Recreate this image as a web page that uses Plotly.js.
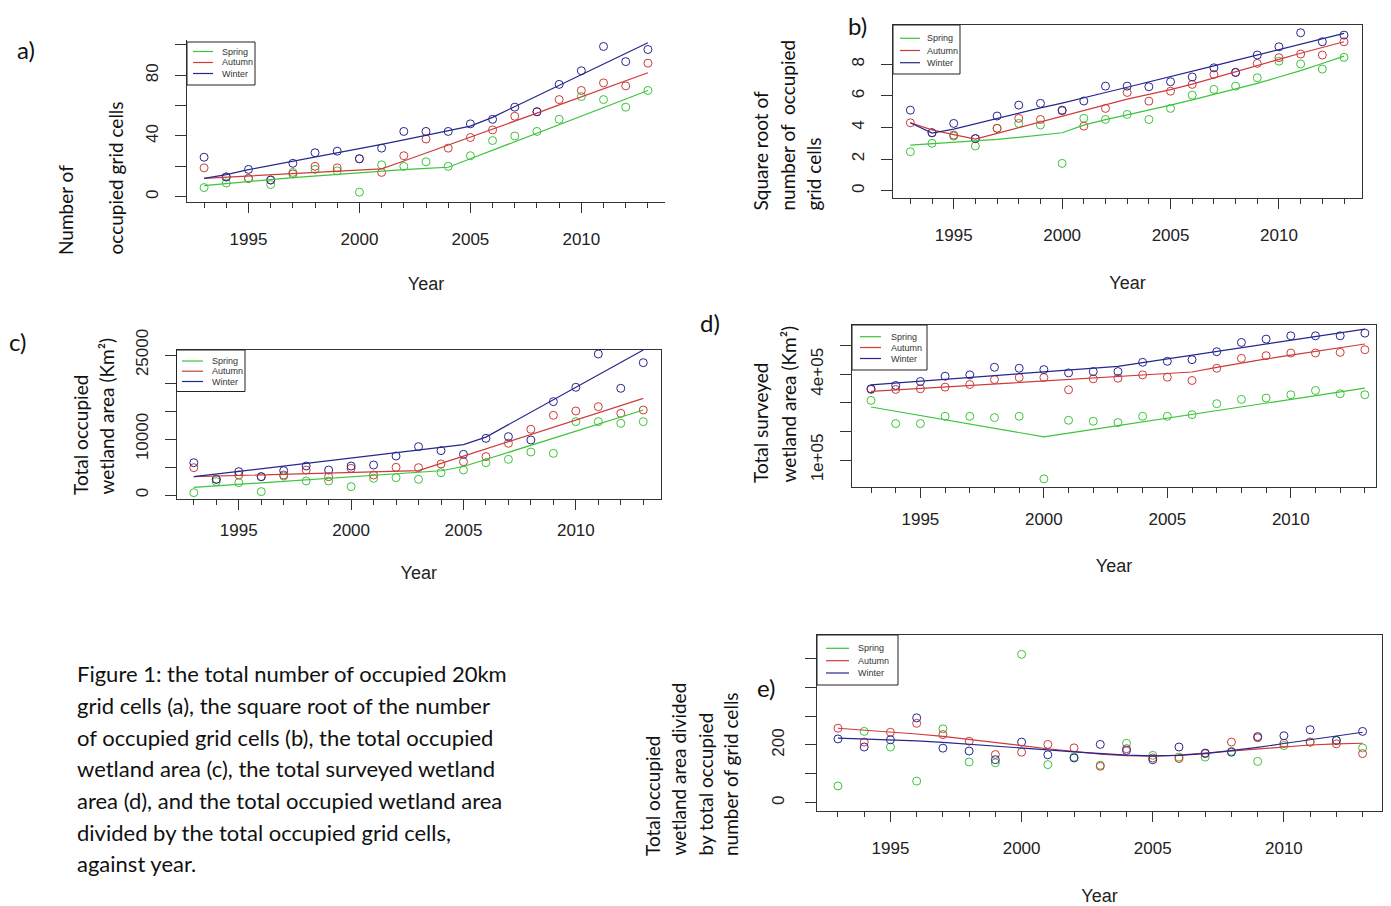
<!DOCTYPE html>
<html>
<head>
<meta charset="utf-8">
<script src="https://cdn.plot.ly/plotly-3.0.1.min.js"></script>
<style>html,body{margin:0;padding:0;background:#fff;}#chart{width:1391px;height:906px;}</style>
</head>
<body>
<div id="chart"></div>
<script>
// ---------- data ----------
const years = [1993,1994,1995,1996,1997,1998,1999,2000,2001,2002,2003,2004,2005,2006,2007,2008,2009,2010,2011,2012,2013];
const seasons = ['Spring','Autumn','Winter'];

// a) number of occupied grid cells
const aSpring = [6,9,12,8,16,18,17,3,21,20,23,20,27,37,40,43,51,66,64,59,70];
const aAutumn = [19,13,12,11,15,20,19,25,16,27,38,32,39,44,53,56,64,70,75,73,88];
const aWinter = [26,13,18,11,22,29,30,25,32,43,43,43,48,51,59,56,74,83,99,89,97];
const aSpringFit = [7.3,8.8,10.1,11.3,12.5,13.6,14.8,16,17,17.8,18.6,19.4,25,30.6,36.2,41.9,47.5,53.1,58.7,64.4,70];
const aAutumnFit = [12.1,12.9,13.7,14.5,15.2,16,16.8,17.5,18.3,23.5,28.7,34,39.2,44.5,49.8,55.1,60.5,65.8,71,76.4,81.7];
const aWinterFit = [12.1,14.5,17.8,20.5,23.2,26,28.7,31.5,34.5,37.5,40.5,43.6,46.5,52.3,59.3,66.3,73.3,80.3,87.3,94.4,101.5];

// b) square root of number of occupied grid cells
const bSpring = [2.47,3.0,3.46,2.83,3.95,4.26,4.16,1.73,4.58,4.51,4.83,4.51,5.21,6.05,6.41,6.62,7.15,8.2,8.02,7.7,8.44];
const bAutumn = [4.3,3.67,3.52,3.3,3.95,4.58,4.51,5.06,4.09,5.21,6.22,5.67,6.3,6.73,7.36,7.49,8.06,8.42,8.65,8.59,9.43];
const bWinter = [5.1,3.67,4.26,3.3,4.73,5.42,5.53,5.1,5.68,6.62,6.62,6.58,6.9,7.2,7.78,7.49,8.59,9.11,10.0,9.43,9.85];
const bSpringFit = [2.89,2.97,3.06,3.15,3.25,3.38,3.52,3.67,4.15,4.5,4.8,5.1,5.42,5.75,6.1,6.45,6.8,7.2,7.6,8.05,8.52];
const bAutumnFit = [4.3,3.85,3.55,3.27,3.63,4.0,4.36,4.72,5.08,5.44,5.8,6.1,6.4,6.75,7.15,7.55,7.95,8.31,8.7,9.07,9.43];
const bWinterFit = [4.3,3.65,3.9,4.24,4.57,4.9,5.24,5.55,5.9,6.22,6.55,6.88,7.2,7.55,7.9,8.25,8.6,8.95,9.29,9.62,9.96];

// c) total occupied wetland area (km2)
const cSpring = [420,2380,2200,600,3390,2500,2500,1490,2980,3100,2800,3990,4460,5770,6370,7680,7440,13100,13100,12800,13100];
const cAutumn = [4880,2800,3570,3270,3570,4460,3270,4760,3570,4940,4880,5540,5950,6850,9230,11730,14230,15000,15770,14580,15180];
const cWinter = [5770,2800,4170,3270,4350,5180,4460,5180,5360,6960,8630,7920,7260,10120,10420,9820,16670,19230,25180,19050,23630];
const cSpringFit = [1370,1640,1910,2180,2450,2710,2980,3250,3520,3790,4060,4330,5090,6350,7610,8870,10140,11400,12660,13920,15180];
const cAutumnFit = [3270,3380,3490,3600,3700,3810,3920,4030,4130,4240,4350,5640,6930,8220,9510,10810,12100,13390,14680,15970,17260];
const cWinterFit = [3270,3750,4220,4700,5180,5650,6130,6610,7090,7560,8040,8520,8990,10340,12560,14780,17000,19230,21450,23670,25890];

// d) total surveyed wetland area (km2)
const dSpring = [308700,227500,227500,253000,253000,248400,253000,33900,239100,235700,231000,253000,253000,258800,297100,312200,316800,328400,343500,331900,328400];
const dAutumn = [347000,347000,349300,355100,364300,381700,388700,388700,345800,384100,386400,398000,389900,378300,421200,455900,465200,474500,474500,476800,486100];
const dWinter = [349300,360900,374800,393300,398000,424600,421200,416500,404900,409600,409600,442000,445500,451300,479100,511600,523200,534800,534800,534800,544100];
const dSpringFit = [285500,270600,255700,240800,225900,211000,196100,181200,194300,207400,220500,233600,246700,259800,272900,286000,299100,312200,325300,338400,351500];
const dAutumnFit = [340000,345100,350200,355200,360300,365400,370500,375600,380600,385700,390800,395900,401000,408000,424000,440000,454000,467000,480000,493000,506000];
const dWinterFit = [363000,369500,376000,382500,389000,395500,402000,408500,415000,421500,428000,441000,454000,467000,480000,493000,506000,519000,532000,545000,558000];

// e) occupied wetland area per occupied grid cell (no spring fit line visible)
const eSpring = [58,247,193,75,256,141,138,514,132,158,130,206,164,158,158,178,143,198,210,215,190];
const eAutumn = [258,210,244,275,236,213,167,175,202,190,126,187,155,153,170,210,225,206,210,204,170];
const eWinter = [221,193,218,294,189,179,149,210,166,155,202,181,149,193,172,175,229,232,253,216,247];
const eAutumnFit = [258,252,246,238,230,220,210,198,187,177,168,163,161,165,172,180,188,195,200,204,206];
const eWinterFit = [224,221,218,214,209,203,197,190,183,176,170,165,162,164,170,180,192,205,218,231,244];

// tick labels (labelled ticks) and unlabelled tick positions
const aTickVals = [0,40,80];            const aTickText = ['0','40','80'];          const aMinorVals = [20,60,100];
const bTickVals = [0,2,4,6,8];          const bTickText = ['0','2','4','6','8'];    const bMinorVals = [];
const cTickVals = [0,10000,25000];      const cTickText = ['0','10000','25000'];    const cMinorVals = [5000,15000,20000];
const dTickVals = [100000,400000];      const dTickText = ['1e+05','4e+05'];        const dMinorVals = [200000,300000,500000];
const eTickVals = [0,200];              const eTickText = ['0','200'];              const eMinorVals = [100,300,400,500];

// ---------- styling / layout ----------
const W = 1391, H = 906;
const px = v => v / W;
const py = v => 1 - v / H;
const colors = {Spring:'#3cc43c', Autumn:'#cd3b3b', Winter:'#26268f'};
const axisFont = {family:'Liberation Sans, Arial, sans-serif', size:17, color:'#222'};
const calib = 'Lato, "Open Sans", sans-serif';

const panels = [
  {box:[187,40.4,665,202], xr:[1992.23,2013.77], yr:[-3.5,103], tv:aTickVals, tt:aTickText, mv:aMinorVals, mirror:false,
   xstand:12, ystand:10, tstand:28,
   leg:{box:[187,42,255,85], ly:[51.5,62.5,73.5], lx:[193,213], tx:220},
   pts:[aSpring,aAutumn,aWinter], fit:[aSpringFit,aAutumnFit,aWinterFit]},
  {box:[893,25,1362,198], xr:[1992.2,2013.83], yr:[-0.46,10.49], tv:bTickVals, tt:bTickText, mv:bMinorVals, mirror:true,
   xstand:12, ystand:10, tstand:31,
   leg:{box:[893,25,960,74], ly:[38.3,50.5,62.7], lx:[900,920], tx:925},
   pts:[bSpring,bAutumn,bWinter], fit:[bSpringFit,bAutumnFit,bWinterFit]},
  {box:[176.5,350,661,499], xr:[1992.23,2013.79], yr:[-714,25893], tv:cTickVals, tt:cTickText, mv:cMinorVals, mirror:true,
   xstand:6, ystand:10, tstand:26,
   leg:{box:[176.5,350,245,391.5], ly:[361,371.2,381.5], lx:[182,203], tx:210},
   pts:[cSpring,cAutumn,cWinter], fit:[cSpringFit,cAutumnFit,cWinterFit]},
  {box:[852,325,1376,486.5], xr:[1992.23,2013.45], yr:[7250,572600], tv:dTickVals, tt:dTickText, mv:dMinorVals, mirror:true,
   xstand:7, ystand:10, tstand:31,
   leg:{box:[852,325,927,370], ly:[336.7,347.5,358.5], lx:[860,881], tx:889},
   pts:[dSpring,dAutumn,dWinter], fit:[dSpringFit,dAutumnFit,dWinterFit]},
  {box:[817,635,1382,810.5], xr:[1992.2,2013.74], yr:[-27,581], tv:eTickVals, tt:eTickText, mv:eMinorVals, mirror:true,
   xstand:12, ystand:14, tstand:33,
   leg:{box:[817,635,898,685], ly:[648.3,660.7,673], lx:[826,849], tx:856},
   pts:[eSpring,eAutumn,eWinter], fit:[null,eAutumnFit,eWinterFit]}
];

const traces = [];
const layout = {
  width: W, height: H, margin:{l:0,r:0,t:0,b:0},
  paper_bgcolor:'#fff', plot_bgcolor:'#fff', showlegend:false,
  annotations: [], shapes: []
};

panels.forEach((p, i) => {
  const n = i === 0 ? '' : String(i + 1);
  const xa = 'x' + n, ya = 'y' + n;
  const [l, t, r, b] = p.box;
  layout['xaxis' + n] = {
    domain:[px(l), px(r)], range:p.xr, anchor:ya, autorange:false,
    showline:true, linecolor:'#333', linewidth:1, mirror:p.mirror,
    showgrid:false, zeroline:false,
    tickmode:'linear', tick0:1995, dtick:5, ticks:'outside', ticklen:10, tickcolor:'#333', tickwidth:1,
    minor:{ticks:'outside', ticklen:5, tickmode:'linear', tick0:1993, dtick:1, tickcolor:'#333', showgrid:false},
    tickfont:axisFont, ticklabelstandoff:p.xstand,
    title:{text:'Year', font:{family:'Liberation Sans, Arial, sans-serif', size:18, color:'#222'}, standoff:p.tstand}
  };
  const yax = {
    domain:[py(b), py(t)], range:p.yr, anchor:xa, autorange:false,
    showline:true, linecolor:'#333', linewidth:1, mirror:p.mirror,
    showgrid:false, zeroline:false,
    tickmode:'array', tickvals:p.tv, ticktext:p.tt, ticks:'outside', ticklen:11, tickcolor:'#333',
    tickangle:-90, tickfont:axisFont, ticklabelstandoff:p.ystand
  };
  if (p.mv.length) yax.minor = {tickmode:'array', tickvals:p.mv, ticks:'outside', ticklen:11, tickcolor:'#333', showgrid:false};
  layout['yaxis' + n] = yax;

  seasons.forEach((s, k) => {
    traces.push({
      type:'scatter', mode:'markers', x:years, y:p.pts[k], xaxis:xa, yaxis:ya,
      name:s, showlegend:false, hoverinfo:'skip',
      marker:{symbol:'circle-open', size:8, color:colors[s], line:{width:1, color:colors[s]}}
    });
  });
  seasons.forEach((s, k) => {
    if (!p.fit[k]) return;
    traces.push({
      type:'scatter', mode:'lines', x:years, y:p.fit[k],
      xaxis:xa, yaxis:ya, name:s, showlegend:false, hoverinfo:'skip',
      line:{color:colors[s], width:1.2}
    });
  });

  // legend box (R-style): frame, short line keys and labels
  const g = p.leg;
  layout.shapes.push({type:'rect', xref:'paper', yref:'paper', x0:px(g.box[0]), x1:px(g.box[2]), y0:py(g.box[3]), y1:py(g.box[1]),
    line:{color:'#222', width:1}, fillcolor:'#fff', layer:'above'});
  seasons.forEach((s, k) => {
    layout.shapes.push({type:'line', xref:'paper', yref:'paper', x0:px(g.lx[0]), x1:px(g.lx[1]), y0:py(g.ly[k]), y1:py(g.ly[k]),
      line:{color:colors[s], width:1.2}, layer:'above'});
    layout.annotations.push({text:s, xref:'paper', yref:'paper', x:px(g.tx), y:py(g.ly[k]), xanchor:'left', yanchor:'middle',
      showarrow:false, font:{family:'Liberation Sans, Arial, sans-serif', size:9, color:'#333'}});
  });
});

// panel labels
const lab = (txt, x, y) => layout.annotations.push({text:txt, x:px(x), y:py(y), xref:'paper', yref:'paper',
  xanchor:'center', yanchor:'middle', showarrow:false, font:{family:calib, size:24, color:'#111'}});
lab('a)', 26, 50); lab('b)', 857, 25); lab('c)', 17, 342); lab('d)', 710, 322); lab('e)', 767, 687);

// y-axis titles (each line positioned separately, rotated, bottom aligned)
const ytitle = (txt, x, bottom) => layout.annotations.push({text:txt, x:px(x), y:py(bottom), xref:'paper', yref:'paper',
  xanchor:'center', yanchor:'bottom', textangle:-90, showarrow:false, font:{family:calib, size:19, color:'#111'}});
ytitle('Number of', 65, 257); ytitle('occupied grid cells', 115, 257);
ytitle('Square root of', 760, 213); ytitle('number of\u00a0\u00a0occupied', 787, 213); ytitle('grid cells', 813, 213);
ytitle('Total occupied', 80, 497); ytitle('wetland area (Km\u00b2)', 106, 497);
ytitle('Total surveyed', 761, 485); ytitle('wetland area (Km\u00b2)', 788, 485);
ytitle('Total occupied', 652, 858); ytitle('wetland area divided', 678, 858); ytitle('by total occupied', 705, 858); ytitle('number of grid cells', 730, 858);

// caption
const caption = [
  'Figure 1: the total number of occupied 20km',
  'grid cells (a), the square root of the number',
  'of occupied grid cells (b), the total occupied',
  'wetland area (c), the total surveyed wetland',
  'area (d), and the total occupied wetland area',
  'divided by the total occupied grid cells,',
  'against year.'
];
const capY = [673,705,737,768,800,832,863];
caption.forEach((c, i) => layout.annotations.push({text:c, x:px(75), y:py(capY[i]), xref:'paper', yref:'paper',
  xanchor:'left', yanchor:'middle', showarrow:false, font:{family:calib, size:22, color:'#111'}}));

Plotly.newPlot('chart', traces, layout, {staticPlot:true, displayModeBar:false});
</script>
</body>
</html>
